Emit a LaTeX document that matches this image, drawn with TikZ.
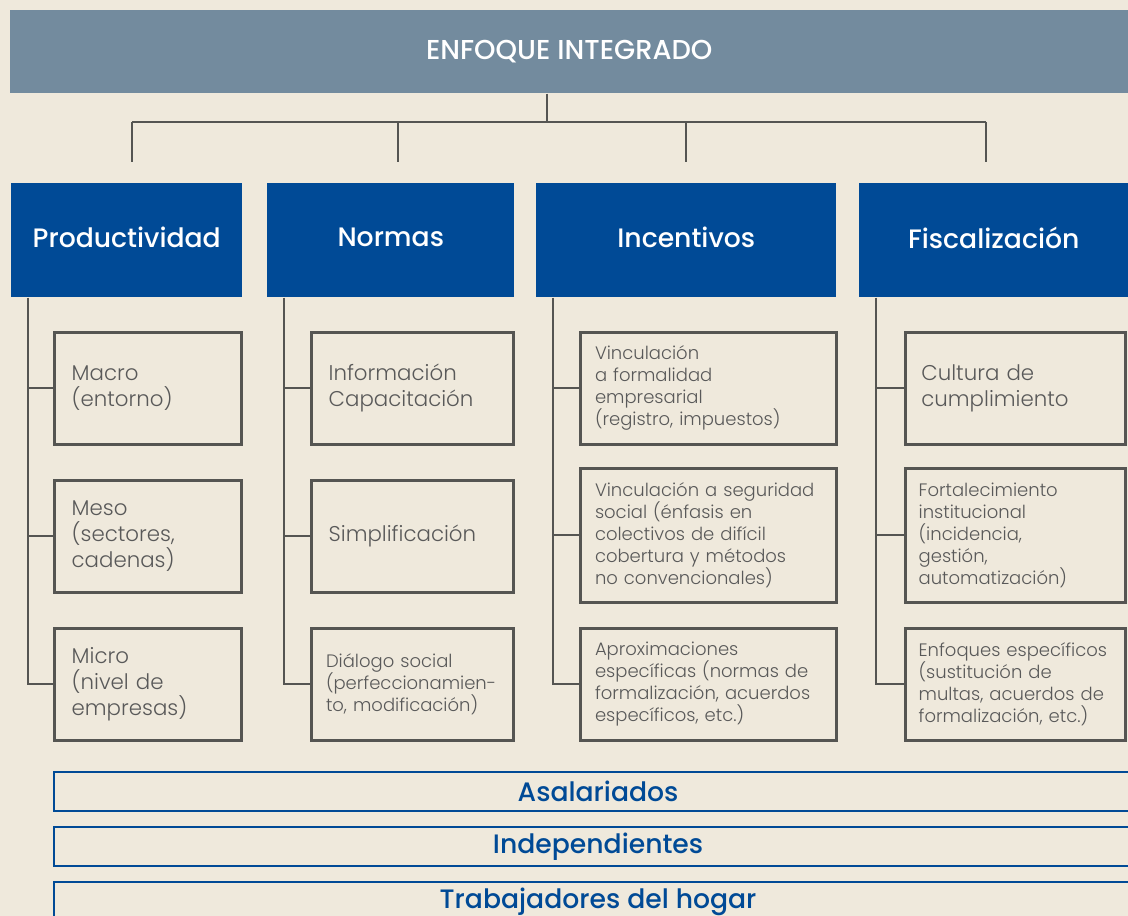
\documentclass[tikz,border=0pt]{standalone}
\usepackage{fontspec}
\setmainfont{Poppins}
\newfontfamily\medfont{Poppins}[UprightFont=* Medium]
\newfontfamily\lightfont{Poppins}[UprightFont=* Light]
\usepackage{xcolor}
\usetikzlibrary{positioning, calc}
\definecolor{bgbeige}{HTML}{EFE9DC}
\definecolor{headgray}{HTML}{738B9E}
\definecolor{mainblue}{HTML}{004A96}
\definecolor{linegray}{HTML}{555552}
\definecolor{textgray}{HTML}{595959}

\begin{document}
\begin{tikzpicture}[
            x=0.75pt, y=-0.75pt,
            headbox/.style={rectangle, anchor=north west, fill=headgray, text=white, minimum width=838.5pt, minimum height=62.25pt, font=\medfont\fontsize{20.5}{24}\selectfont},
            mainbox/.style={rectangle, anchor=north west, fill=mainblue, text=white, minimum height=85.5pt, font=\medfont\fontsize{20}{24}\selectfont},
            subbox/.style={rectangle, anchor=north west, draw=linegray, line width=2pt, text=textgray, align=left, inner xsep=13pt, font=\lightfont\fontsize{16}{19.5}\selectfont},
            small/.style={inner xsep=11pt, font=\lightfont\fontsize{13.5}{16.5}\selectfont},
            groupbar/.style={rectangle, anchor=north west, draw=mainblue, line width=1.6pt, text=mainblue, minimum width=816pt, minimum height=29.25pt, font=\medfont\fontsize{20}{23}\selectfont},
            conn/.style={draw=linegray, line width=1.6pt}
        ]
        \path[use as bounding box, clip] (0,0) rectangle (1128,916);
        \fill[bgbeige] (0,0) rectangle (1128,916);

        \node[headbox] (head) at (10,10) {\raisebox{1.5pt}{ENFOQUE INTEGRADO}};

        \node[mainbox, minimum width=173.25pt] (prod) at (11,183) {\raisebox{4pt}{Productividad}};
        \node[mainbox, minimum width=185.25pt] (norm) at (267,183) {\raisebox{4pt}{Normas}};
        \node[mainbox, minimum width=225pt] (ince) at (536,183) {\raisebox{4pt}{Incentivos}};
        \node[mainbox, minimum width=201.75pt] (fisc) at (859,183) {\raisebox{4pt}{Fiscalización}};

        \node[subbox, text width=114.5pt, minimum height=84pt] (prod1) at (53,331) {Macro\\(entorno)};
        \node[subbox, text width=114.5pt, minimum height=84pt] (prod2) at (53,479) {Meso\\(sectores,\\cadenas)};
        \node[subbox, text width=114.5pt, minimum height=84pt] (prod3) at (53,627) {Micro\\(nivel de\\empresas)};

        \node[subbox, text width=125.5pt, minimum height=84pt] (norm1) at (310,331) {Información\\Capacitación};
        \node[subbox, text width=125.5pt, minimum height=84pt] (norm2) at (310,479) {Simplificación};
        \node[subbox, small, text width=129.5pt, minimum height=84pt] (norm3) at (310,627) {Diálogo social\\(perfeccionamien-\\to, modificación)};

        \node[subbox, small, text width=170pt, minimum height=84pt] (ince1) at (579,331) {Vinculación\\a formalidad\\empresarial\\(registro, impuestos)};
        \node[subbox, small, text width=170pt, minimum height=100.5pt] (ince2) at (579,467) {Vinculación a seguridad\\social (énfasis en\\colectivos de difícil\\cobertura y métodos\\no convencionales)};
        \node[subbox, small, text width=170pt, minimum height=84pt] (ince3) at (579,627) {Aproximaciones\\específicas (normas de\\formalización, acuerdos\\específicos, etc.)};

        \node[subbox, text width=141pt, inner xsep=12pt, minimum height=84pt] (fisc1) at (904,331) {Cultura de\\cumplimiento};
        \node[subbox, small, text width=145pt, inner xsep=10pt, minimum height=100.5pt] (fisc2) at (904,467) {Fortalecimiento\\institucional\\(incidencia,\\gestión,\\automatización)};
        \node[subbox, small, text width=145pt, inner xsep=10pt, minimum height=84pt] (fisc3) at (904,627) {Enfoques específicos\\(sustitución de\\multas, acuerdos de\\formalización, etc.)};

        \node[groupbar] (asal) at (53,771) {Asalariados};
        \node[groupbar] (inde) at (53,826) {Independientes};
        \node[groupbar] (hoga) at (53,881) {Trabajadores del hogar};

        \coordinate (hub) at (547,122);
        \coordinate (t1) at (132,122);
        \coordinate (t2) at (398,122);
        \coordinate (t3) at (686,122);
        \coordinate (t4) at (986,122);
        \coordinate (d1) at (132,162);
        \coordinate (d2) at (398,162);
        \coordinate (d3) at (686,162);
        \coordinate (d4) at (986,162);

        \draw[conn] (head.south -| hub) -- (hub);
        \draw[conn] (t1) -- (t4);
        \foreach \i in {1,...,4}
            \draw[conn] (t\i) -- (d\i);

        \coordinate (sp1) at ([xshift=12.75pt]prod.south west);
        \coordinate (sp2) at ([xshift=12.75pt]norm.south west);
        \coordinate (sp3) at ([xshift=12.75pt]ince.south west);
        \coordinate (sp4) at ([xshift=12.75pt]fisc.south west);

        \draw[conn] (sp1) |- (prod3.west);
        \draw[conn] (prod1.west) -- (prod1.west -| sp1);
        \draw[conn] (prod2.west) -- (prod2.west -| sp1);
        \draw[conn] (sp2) |- (norm3.west);
        \draw[conn] (norm1.west) -- (norm1.west -| sp2);
        \draw[conn] (norm2.west) -- (norm2.west -| sp2);
        \draw[conn] (sp3) |- (ince3.west);
        \draw[conn] (ince1.west) -- (ince1.west -| sp3);
        \draw[conn] (ince2.west) -- (ince2.west -| sp3);
        \draw[conn] (sp4) |- (fisc3.west);
        \draw[conn] (fisc1.west) -- (fisc1.west -| sp4);
        \draw[conn] (fisc2.west) -- (fisc2.west -| sp4);
    \end{tikzpicture}
\end{document}
